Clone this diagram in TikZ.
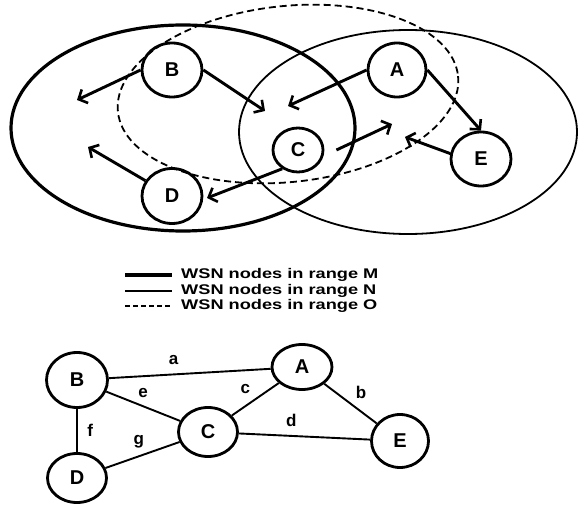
\documentclass[tikz,border=0pt]{standalone}
\usepackage{fontspec}
\setmainfont{Liberation Sans}
\newfontfamily\widesans[FakeStretch=1.3]{Liberation Sans}
\usetikzlibrary{arrows.meta,shapes.geometric}

\tikzset{
  mote/.style={draw, ellipse, line width=2.8pt, inner sep=0pt, font=\fontsize{20}{22}\selectfont\bfseries},
  link/.style={line width=1.9pt},
  hop/.style={-{Straight Barb[length=7pt,width=15pt,line width=2.6pt]}, line width=2.9pt},
  lbl/.style={font=\fontsize{17}{19}\selectfont\bfseries},
  legend/.style={font=\widesans\fontsize{14}{16}\selectfont\bfseries, inner sep=0pt, anchor=west}
}

\begin{document}
\begin{tikzpicture}[x=1pt, y=-1pt]
\useasboundingbox (0,0) rectangle (578,505);

% ranges M, N, O
\draw[line width=3.2pt] (183,128) ellipse [x radius=172, y radius=103];
\draw[line width=1.8pt] (408,132) ellipse [x radius=169, y radius=102];
\draw[line width=1.8pt, dash pattern=on 7pt off 4pt, rotate around={6:(288,94)}] (288,94) ellipse [x radius=171, y radius=88];

% motes
\node[mote, minimum width=60, minimum height=54] (B) at (172,70) {B};
\node[mote, minimum width=58, minimum height=54] (A) at (397,70) {A};
\node[mote, minimum width=50, minimum height=44] (C) at (298,150) {C};
\node[mote, minimum width=60, minimum height=55] (D) at (172,196) {D};
\node[mote, minimum width=60, minimum height=54] (E) at (481,159) {E};

\coordinate (bl) at (77,100);
\coordinate (br) at (265,111);
\coordinate (al) at (288,106);
\coordinate (cr) at (392,124);
\coordinate (cl) at (207,198);
\coordinate (dl) at (88,147);
\coordinate (el) at (405,137);

\draw[hop] (B.west) -- (bl);
\draw[hop] (B.east) -- (br);
\draw[hop] (A.west) -- (al);
\draw[hop] (A.east) -- (E.north);
\draw[hop] ([xshift=12pt]C.east) -- (cr);
\draw[hop] (C.230) -- (cl);
\draw[hop] (D.150) -- (dl);
\draw[hop] (E.170) -- (el);

% legend
\draw[line width=3.2pt] (125,275) -- (172,275);
\draw[line width=1.8pt] (125,291) -- (172,291);
\draw[line width=1.8pt, dash pattern=on 5pt off 3pt] (125,306) -- (172,306);
\node[legend] (lm) at (181,275) {WSN nodes in range M};
\node[legend] (ln) at (181,291) {WSN nodes in range N};
\node[legend] (lo) at (181,306) {WSN nodes in range O};

% graph
\node[mote, minimum width=61, minimum height=55] (b) at (77,380) {B};
\node[mote, minimum width=60, minimum height=45] (a) at (302,367) {A};
\node[mote, minimum width=59, minimum height=49] (c) at (208,432) {C};
\node[mote, minimum width=57, minimum height=53] (e) at (400,441) {E};
\node[mote, minimum width=59, minimum height=49] (d) at (77,478) {D};

\draw[link] (b) -- node[lbl, pos=.4, above=5pt] (la) {a} (a);
\draw[link] (a) -- node[lbl, above right=1pt] (lb) {b} (e);
\draw[link] (a) -- node[lbl, above left=1pt] (lc) {c} (c);
\draw[link] (c) -- node[lbl, pos=.4, above=5pt] (ld) {d} (e);
\draw[link] (b) -- node[lbl, above=4pt] (le) {e} (c);
\draw[link] (b) -- node[lbl, right=6pt] (lf) {f} (d);
\draw[link] (d) -- node[lbl, pos=.45, above=4pt] (lg) {g} (c);

\end{tikzpicture}
\end{document}
